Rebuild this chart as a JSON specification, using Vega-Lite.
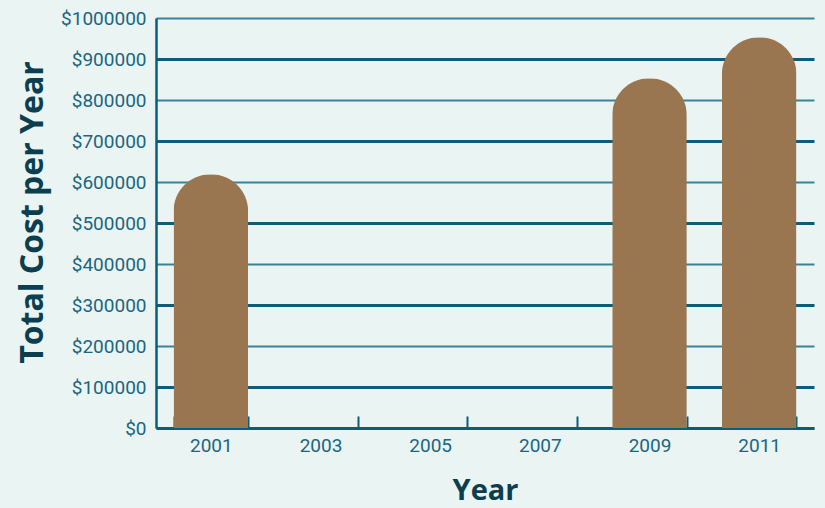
{
  "$schema": "https://vega.github.io/schema/vega-lite/v6.json",
  "width": 658,
  "height": 410,
  "autosize": {"type": "none"},
  "padding": {"left": 156, "top": 18, "right": 11, "bottom": 80},
  "background": "#eaf4f3",
  "config": {
    "view": {"stroke": null},
    "font": "Roboto"
  },
  "data": {
    "values": [
      {"Year": "2001", "Cost": 619000},
      {"Year": "2003", "Cost": 0},
      {"Year": "2005", "Cost": 0},
      {"Year": "2007", "Cost": 0},
      {"Year": "2009", "Cost": 853000},
      {"Year": "2011", "Cost": 953000}
    ]
  },
  "mark": {
    "type": "bar",
    "color": "#9a7650",
    "cornerRadiusTopLeft": 37,
    "cornerRadiusTopRight": 37
  },
  "encoding": {
    "x": {
      "field": "Year",
      "type": "ordinal",
      "scale": {"paddingInner": 0.32, "paddingOuter": 0.16},
      "axis": {
        "title": "Year",
        "titleFont": "Open Sans",
        "titleFontSize": 29,
        "titleFontWeight": "bold",
        "titleColor": "#0b3f4f",
        "titleY": 62,
        "titleBaseline": "middle",
        "labelAngle": 0,
        "labelFont": "Roboto",
        "labelFontSize": 19,
        "labelColor": "#1a6682",
        "labelPadding": 20,
        "domainColor": "#0b5d7a",
        "domainWidth": 3,
        "ticks": true,
        "tickBand": "extent",
        "tickSize": -12,
        "tickWidth": 2,
        "tickColor": "#0b5d7a",
        "grid": false
      }
    },
    "y": {
      "field": "Cost",
      "type": "quantitative",
      "scale": {"domain": [0, 1000000], "nice": false},
      "axis": {
        "title": "Total Cost per Year",
        "titleFont": "Open Sans",
        "titleFontSize": 32,
        "titleFontWeight": "bold",
        "titleColor": "#0b3f4f",
        "titleX": -124,
        "titleY": 194,
        "titleBaseline": "middle",
        "values": [0, 100000, 200000, 300000, 400000, 500000, 600000, 700000, 800000, 900000, 1000000],
        "labelOverlap": false,
        "labelExpr": "'$' + datum.value",
        "labelFont": "Roboto",
        "labelFontSize": 19,
        "labelColor": "#1a6682",
        "labelPadding": 10,
        "ticks": false,
        "domainColor": "#0b5d7a",
        "domainWidth": 2.5,
        "grid": true,
        "gridColor": {"condition": {"test": "(datum.value / 100000) % 2 == 1", "value": "#0b5d7a"}, "value": "#3a819a"},
        "gridWidth": {"condition": {"test": "(datum.value / 100000) % 2 == 1", "value": 3}, "value": 2},
        "gridOpacity": 1
      }
    }
  }
}
